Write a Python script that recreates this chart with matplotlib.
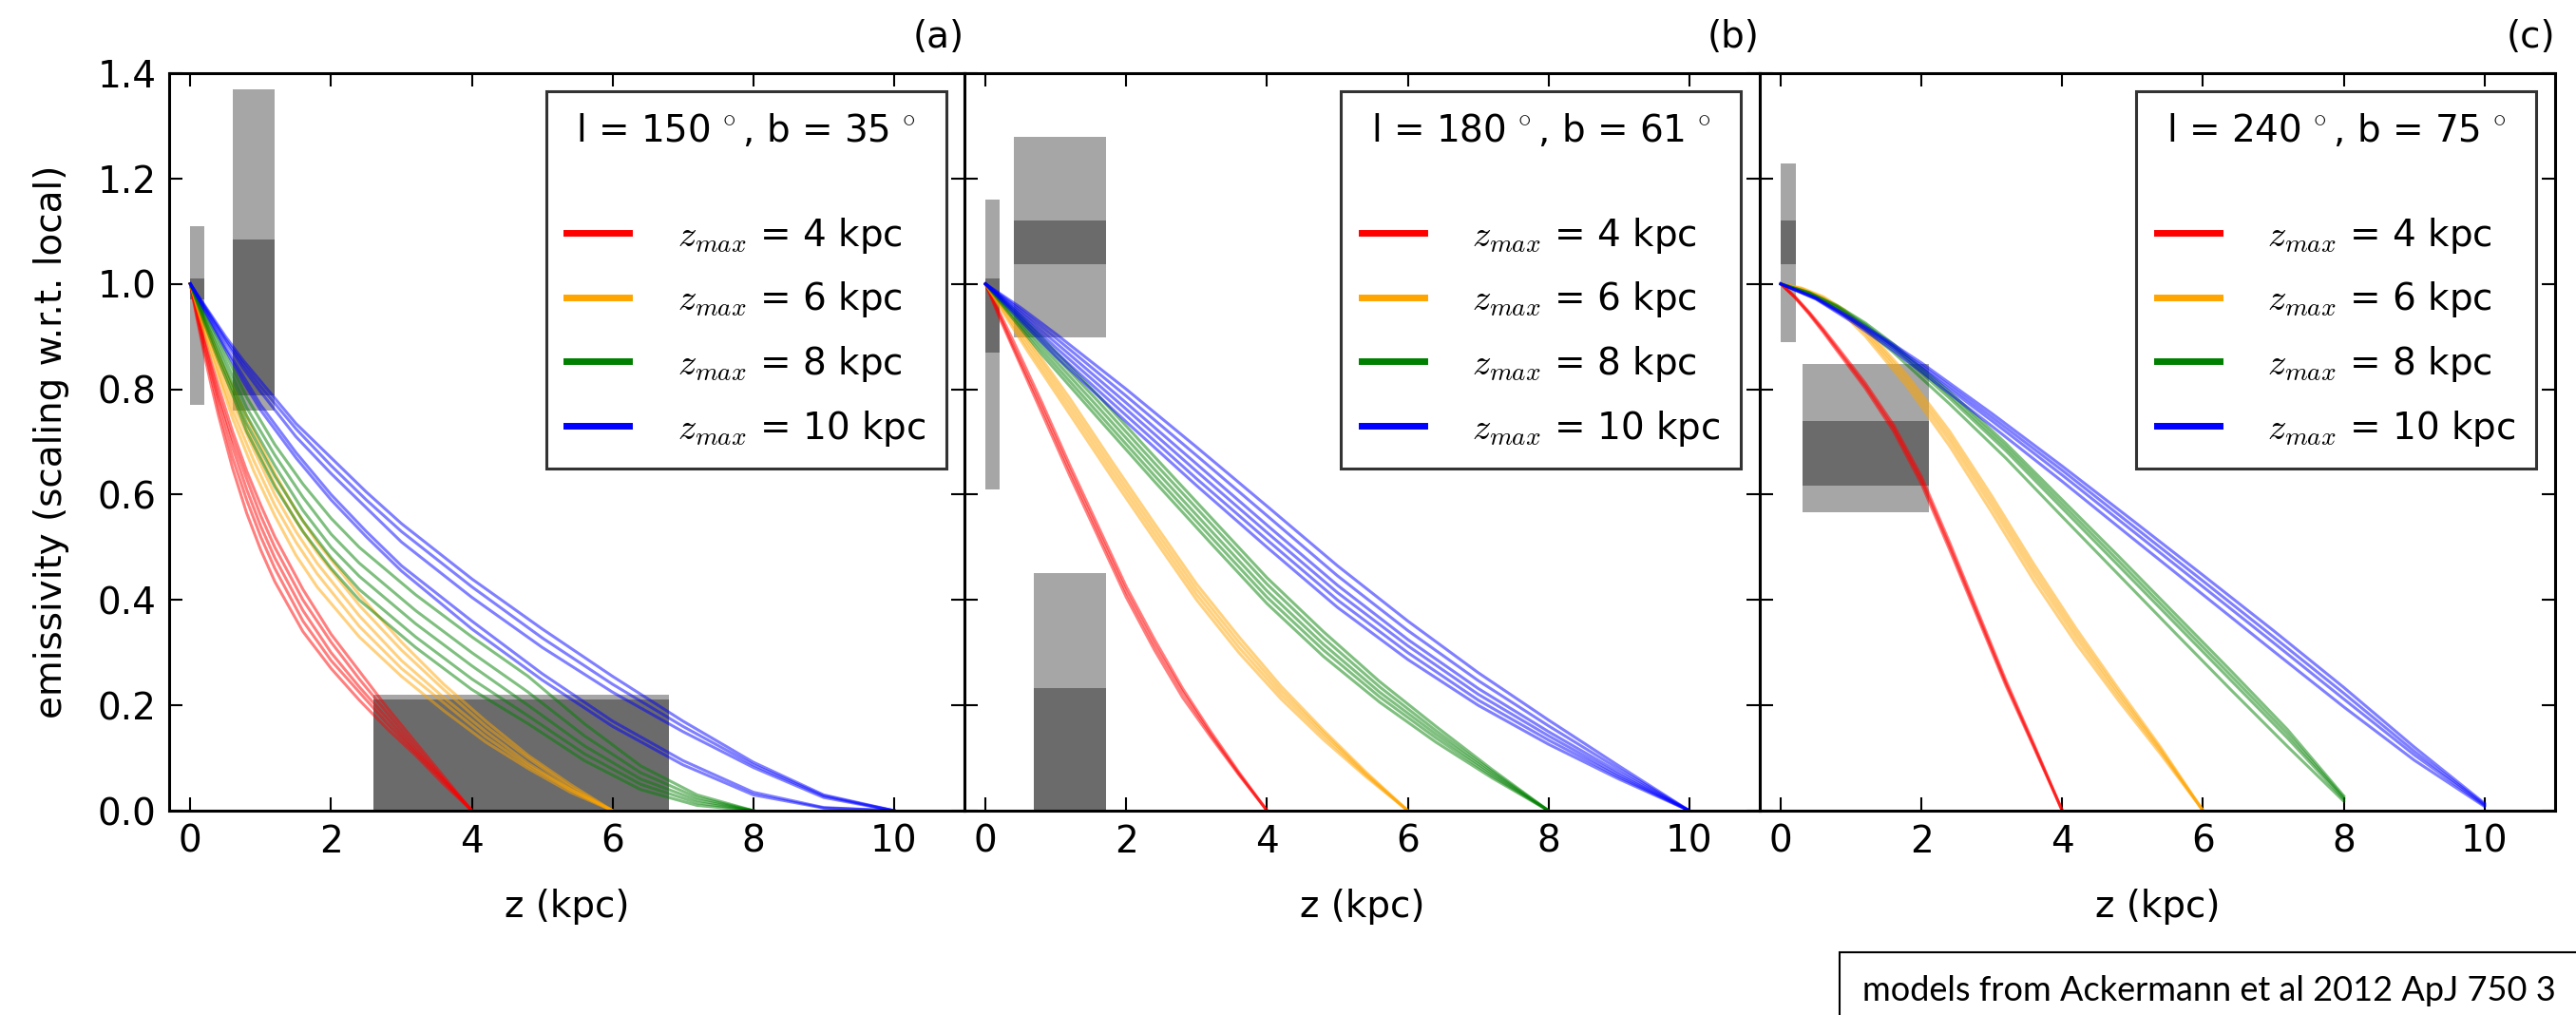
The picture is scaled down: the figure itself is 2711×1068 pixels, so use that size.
import numpy as np
import matplotlib
matplotlib.use('Agg')
import matplotlib.pyplot as plt
from matplotlib.lines import Line2D

A_FRAC = np.array([0, .025, .05, .075, .1, .15, .2, .25, .3, .4, .5, .6, .7, .8, .9, 1.0])
B_FRAC = np.array([0, .05, .1, .2, .3, .4, .5, .6, .7, .8, .9, 1.0])
C_FRAC = np.array([0, .05, .1, .15, .2, .3, .4, .5, .6, .7, .8, .9, 1.0])
ZMAX = [4, 6, 8, 10]
COLORS = ['red', 'orange', 'green', 'blue']
TITLES = [r'l = 150$\,^\circ$, b = 35$\,^\circ$',
          r'l = 180$\,^\circ$, b = 61$\,^\circ$',
          r'l = 240$\,^\circ$, b = 75$\,^\circ$']
PANEL_LABELS = ['(a)', '(b)', '(c)']

# panel (a): l=150, b=35
A_RED = [
    [1, .930, .865, .805, .750, .650, .565, .495, .435, .340, .270, .210, .155, .105, .050, 0],
    [1, .935, .875, .820, .765, .670, .590, .520, .460, .360, .285, .225, .165, .110, .055, 0],
    [1, .940, .885, .830, .780, .690, .610, .540, .480, .380, .300, .235, .175, .115, .058, 0],
    [1, .945, .890, .840, .790, .705, .630, .560, .500, .400, .320, .250, .185, .122, .060, 0],
    [1, .950, .900, .850, .805, .720, .645, .580, .520, .420, .335, .265, .195, .130, .065, 0],
]
A_ORANGE = [
    [1, .930, .865, .805, .745, .645, .560, .485, .425, .330, .255, .190, .130, .080, .035, 0],
    [1, .935, .875, .815, .760, .665, .580, .510, .450, .350, .270, .205, .140, .085, .040, 0],
    [1, .940, .885, .830, .775, .685, .600, .530, .470, .370, .285, .215, .150, .090, .040, 0],
    [1, .945, .890, .840, .790, .700, .620, .550, .490, .390, .305, .230, .160, .100, .045, 0],
    [1, .950, .900, .850, .805, .720, .640, .570, .510, .410, .320, .240, .170, .105, .050, 0],
]
A_GREEN = [
    [1, .925, .855, .790, .720, .615, .530, .460, .400, .310, .230, .165, .095, .040, .010, 0],
    [1, .930, .865, .800, .735, .635, .550, .480, .420, .330, .250, .180, .108, .050, .015, 0],
    [1, .935, .875, .810, .750, .655, .570, .500, .445, .355, .275, .200, .123, .060, .020, 0],
    [1, .940, .885, .825, .765, .675, .595, .525, .470, .380, .300, .225, .142, .072, .025, 0],
    [1, .945, .895, .840, .785, .695, .620, .555, .500, .410, .330, .255, .165, .085, .030, 0],
]
A_BLUE = [
    [1, .950, .900, .855, .815, .735, .670, .605, .545, .440, .345, .255, .170, .092, .030, 0],
    [1, .947, .895, .848, .805, .725, .655, .590, .530, .425, .328, .240, .160, .087, .028, 0],
    [1, .945, .890, .840, .795, .710, .640, .575, .510, .405, .310, .225, .150, .082, .025, 0],
    [1, .940, .880, .825, .770, .680, .600, .530, .465, .360, .260, .170, .095, .035, .006, 0],
    [1, .937, .875, .815, .760, .670, .590, .520, .455, .345, .248, .160, .087, .030, .005, 0],
]

# panel (b): l=180, b=61
B_RED = [
    [1, .935, .875, .755, .635, .520, .405, .305, .215, .140, .068, 0],
    [1, .940, .880, .765, .645, .530, .415, .315, .225, .145, .070, 0],
    [1, .945, .890, .775, .655, .540, .425, .325, .232, .150, .073, 0],
]
B_ORANGE = [
    [1, .935, .872, .752, .632, .515, .400, .300, .212, .135, .065, 0],
    [1, .940, .880, .762, .642, .525, .410, .310, .220, .142, .068, 0],
    [1, .945, .888, .772, .652, .535, .420, .320, .228, .148, .071, 0],
    [1, .950, .895, .782, .662, .545, .430, .330, .236, .153, .074, 0],
]
B_GREEN = [
    [1, .932, .866, .745, .625, .508, .393, .293, .206, .130, .062, 0],
    [1, .937, .874, .755, .636, .520, .405, .305, .216, .138, .066, 0],
    [1, .942, .882, .766, .648, .532, .417, .316, .225, .145, .070, 0],
    [1, .947, .890, .777, .660, .545, .430, .328, .235, .152, .074, 0],
    [1, .952, .898, .788, .672, .557, .442, .340, .245, .160, .078, 0],
]
B_BLUE = [
    [1, .930, .862, .738, .617, .500, .386, .287, .200, .126, .060, 0],
    [1, .935, .870, .750, .630, .514, .400, .300, .210, .134, .064, 0],
    [1, .940, .879, .762, .644, .528, .414, .313, .221, .142, .068, 0],
    [1, .945, .888, .774, .658, .542, .428, .325, .232, .150, .073, 0],
    [1, .950, .897, .787, .674, .560, .446, .342, .247, .161, .079, 0],
    [1, .955, .905, .800, .690, .578, .465, .360, .262, .172, .085, 0],
]

# panel (c): l=240, b=75
C_RED = [
    [1, .974, .943, .909, .873, .802, .721, .620, .495, .366, .237, .119, 0],
    [1, .975, .945, .912, .877, .807, .727, .627, .502, .372, .242, .122, 0],
    [1, .976, .947, .915, .881, .812, .733, .634, .509, .378, .247, .125, 0],
]
C_ORANGE = [
    [1, .989, .970, .941, .901, .804, .692, .566, .436, .317, .209, .107, 0],
    [1, .990, .972, .945, .907, .812, .702, .577, .447, .327, .217, .112, 0],
    [1, .991, .974, .948, .912, .819, .711, .587, .457, .336, .224, .116, 0],
    [1, .992, .976, .951, .917, .826, .720, .597, .467, .345, .231, .120, 0],
]
C_GREEN = [
    [1, .980, .951, .914, .870, .772, .669, .558, .448, .338, .229, .122, .018],
    [1, .982, .955, .920, .878, .783, .683, .574, .465, .356, .247, .138, .022],
    [1, .983, .957, .923, .882, .789, .690, .582, .474, .365, .256, .146, .025],
    [1, .984, .959, .926, .886, .795, .697, .590, .483, .374, .265, .154, .028],
]
C_BLUE = [
    [1, .971, .929, .883, .833, .730, .625, .517, .410, .303, .197, .096, .008],
    [1, .972, .932, .888, .840, .740, .637, .531, .425, .319, .212, .106, .010],
    [1, .973, .934, .891, .845, .747, .646, .541, .436, .330, .223, .113, .012],
    [1, .974, .936, .894, .850, .754, .654, .551, .447, .342, .234, .121, .014],
]

# measured emissivity boxes: z0, z1, outer lo, outer hi, inner lo, inner hi
BOXES_A = [(0.0, 0.2, 0.77, 1.11, 0.97, 1.01),
           (0.6, 1.2, 0.76, 1.37, 0.788, 1.085),
           (2.6, 6.8, 0.0, 0.22, 0.0, 0.211)]
BOXES_B = [(0.0, 0.2, 0.61, 1.16, 0.869, 1.01),
           (0.4, 1.71, 0.898, 1.28, 1.038, 1.12),
           (0.69, 1.71, 0.0, 0.451, 0.0, 0.232)]
BOXES_C = [(0.0, 0.21, 0.889, 1.228, 1.038, 1.12),
           (0.31, 2.11, 0.567, 0.848, 0.617, 0.739)]

PANELS = [
    (A_FRAC, [A_RED, A_ORANGE, A_GREEN, A_BLUE], BOXES_A),
    (B_FRAC, [B_RED, B_ORANGE, B_GREEN, B_BLUE], BOXES_B),
    (C_FRAC, [C_RED, C_ORANGE, C_GREEN, C_BLUE], BOXES_C),
]

plt.rcParams['font.family'] = 'DejaVu Sans'
plt.rcParams['mathtext.fontset'] = 'cm'
FS = 28

fig = plt.figure(figsize=(27.11, 10.68), dpi=100)
lefts = [0.0657, 0.3744, 0.6831]
axes = [fig.add_axes([l, 0.2013, 0.3087, 0.7266]) for l in lefts]

for i, (ax, (frac, families, boxes)) in enumerate(zip(axes, PANELS)):
    for z0, z1, lo, hi, dlo, dhi in boxes:
        ax.bar(z0, hi - lo, bottom=lo, width=z1 - z0, align='edge',
               color='#a6a6a6', linewidth=0, zorder=1)
        ax.bar(z0, dhi - dlo, bottom=dlo, width=z1 - z0, align='edge',
               color='#6b6b6b', linewidth=0, zorder=1)
    for curves, zmax, col in zip(families, ZMAX, COLORS):
        for v in curves:
            ax.plot(frac * zmax, v, color=col, lw=2.2, alpha=0.5, zorder=2)

    ax.set_xlim(-0.3, 11.0)
    ax.set_ylim(0, 1.4)
    ax.set_xticks(np.arange(0, 11, 2))
    ax.set_yticks(np.arange(0, 1.41, 0.2))
    ax.tick_params(direction='in', top=True, right=True, length=10,
                   width=1.5, labelsize=FS, pad=10)
    for s in ax.spines.values():
        s.set_linewidth(2.2)
    if i == 0:
        ax.set_yticklabels(['%.1f' % t for t in np.arange(0, 1.41, 0.2)])
        ax.set_ylabel('emissivity (scaling w.r.t. local)', fontsize=FS, labelpad=21)
    else:
        ax.set_yticklabels([])
    ax.set_xlabel('z (kpc)', fontsize=FS, labelpad=22)
    ax.text(1.0, 1.025, PANEL_LABELS[i], transform=ax.transAxes,
            ha='right', va='bottom', fontsize=FS)

    handles = [Line2D([], [], color=c, lw=5) for c in COLORS]
    labels = [r'$z_{max}$ = %d kpc' % z for z in ZMAX]
    leg = ax.legend(handles, labels, title=TITLES[i] + '\n', loc='upper right',
                    fontsize=FS, title_fontsize=FS, frameon=True, fancybox=False,
                    borderaxespad=0.5, handlelength=1.7, handletextpad=1.3,
                    labelspacing=0.66, borderpad=0.55)
    leg.get_frame().set_edgecolor('black')
    leg.get_frame().set_linewidth(2.2)
    leg.set_zorder(5)

fig.text(0.992, 0.024, 'models from Ackermann et al 2012 ApJ 750 3',
         ha='right', va='center', fontsize=26, family='Lato',
         bbox=dict(boxstyle='square,pad=0.65', fc='white', ec='black', lw=1.5))

fig.savefig('out.png', dpi=100)
